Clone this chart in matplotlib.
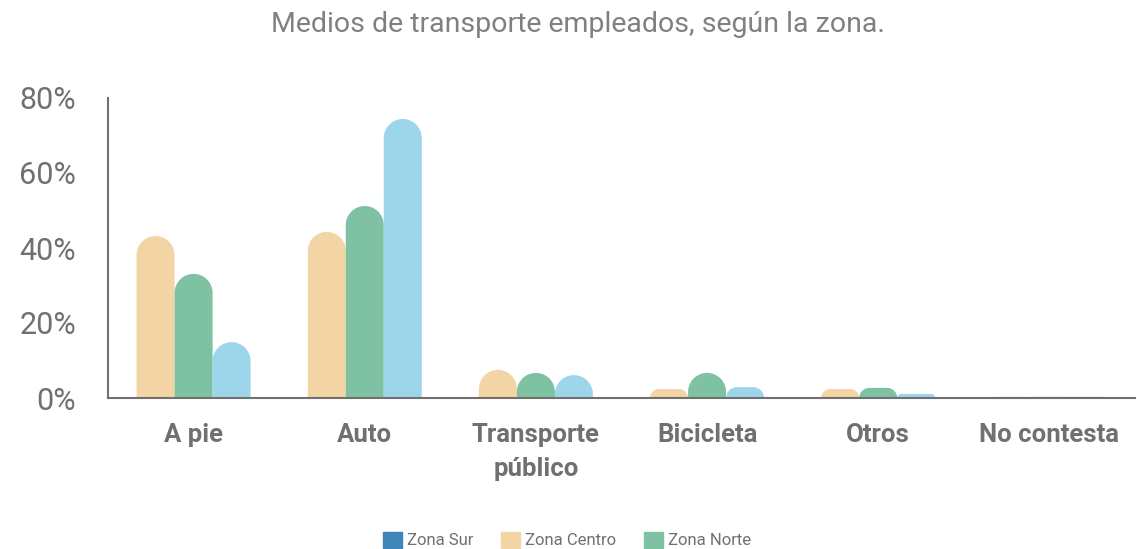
import numpy as np
import matplotlib
matplotlib.use("Agg")
import matplotlib.pyplot as plt
from matplotlib.patches import Patch, PathPatch
from matplotlib.path import Path

plt.rcParams['font.family'] = ['Roboto', 'DejaVu Sans']

categories = ["A pie", "Auto", "Transporte\npúblico", "Bicicleta", "Otros", "No contesta"]
zona_centro = [43.2, 44.3, 7.5, 2.4, 2.4, 0.3]
zona_norte = [33.1, 51.2, 6.7, 6.7, 2.7, 0.3]
zona_extra = [14.9, 74.4, 6.1, 2.9, 1.1, 0.3]
legend_labels = ["Zona Sur", "Zona Centro", "Zona Norte"]

c_sur = "#3E86BA"
c_centro = "#F3D5A5"
c_norte = "#7EC2A3"
c_extra = "#9DD6EA"
grey = "#707070"

W, H = 1137, 549
fig = plt.figure(figsize=(W / 100, H / 100), dpi=100)
ax = fig.add_axes([108 / W, 151 / H, (1135 - 108) / W, 300 / H])
ax.set_xlim(-0.5, 5.5)
ax.set_ylim(0, 80)

bw = 0.222
# pixels per data unit, used to keep the top corners round
px_x = (1135 - 108) / 6.0
px_y = 300 / 80.0
r_max = bw / 2 * px_x
K = 0.5523


def rounded_bar(xc, h, color):
    r = min(r_max, h * px_y)
    rx, ry = r / px_x, r / px_y
    x0, x1 = xc - bw / 2, xc + bw / 2
    verts = [(x0, 0), (x0, h - ry),
             (x0, h - ry + K * ry), (x0 + rx - K * rx, h), (x0 + rx, h),
             (x1 - rx, h),
             (x1 - rx + K * rx, h), (x1, h - ry + K * ry), (x1, h - ry),
             (x1, 0), (x0, 0)]
    codes = [Path.MOVETO, Path.LINETO,
             Path.CURVE4, Path.CURVE4, Path.CURVE4,
             Path.LINETO,
             Path.CURVE4, Path.CURVE4, Path.CURVE4,
             Path.LINETO, Path.CLOSEPOLY]
    ax.add_patch(PathPatch(Path(verts, codes), facecolor=color, edgecolor="none"))


x = np.arange(len(categories))
for off, vals, col in [(-bw, zona_centro, c_centro), (0, zona_norte, c_norte), (bw, zona_extra, c_extra)]:
    for xi, v in zip(x + off, vals):
        rounded_bar(xi, v, col)

ax.set_yticks([0, 20, 40, 60, 80])
ax.set_yticklabels(["0%", "20%", "40%", "60%", "80%"], fontsize=22, color=grey)
ax.set_xticks(x)
ax.set_xticklabels(categories, fontsize=18.5, color=grey, fontweight="bold", linespacing=1.55)
ax.tick_params(axis="both", length=0)
ax.tick_params(axis="x", pad=18)
ax.tick_params(axis="y", pad=23)
for s in ["top", "right"]:
    ax.spines[s].set_visible(False)
for s in ["left", "bottom"]:
    ax.spines[s].set_color(grey)
    ax.spines[s].set_linewidth(1.5)

fig.text(578 / W, 1 - 25 / H, "Medios de transporte empleados, según la zona.",
         ha="center", va="center", fontsize=20.5, color="#808080")

handles = [Patch(color=c) for c in [c_sur, c_centro, c_norte]]
fig.legend(handles, legend_labels, loc="center", bbox_to_anchor=(567 / W, 1 - 540 / H),
           ncol=3, frameon=False, fontsize=12, labelcolor=grey, handlelength=1.1,
           handleheight=1.1, handletextpad=0.3, columnspacing=1.7)

fig.savefig("out.png", dpi=100)
